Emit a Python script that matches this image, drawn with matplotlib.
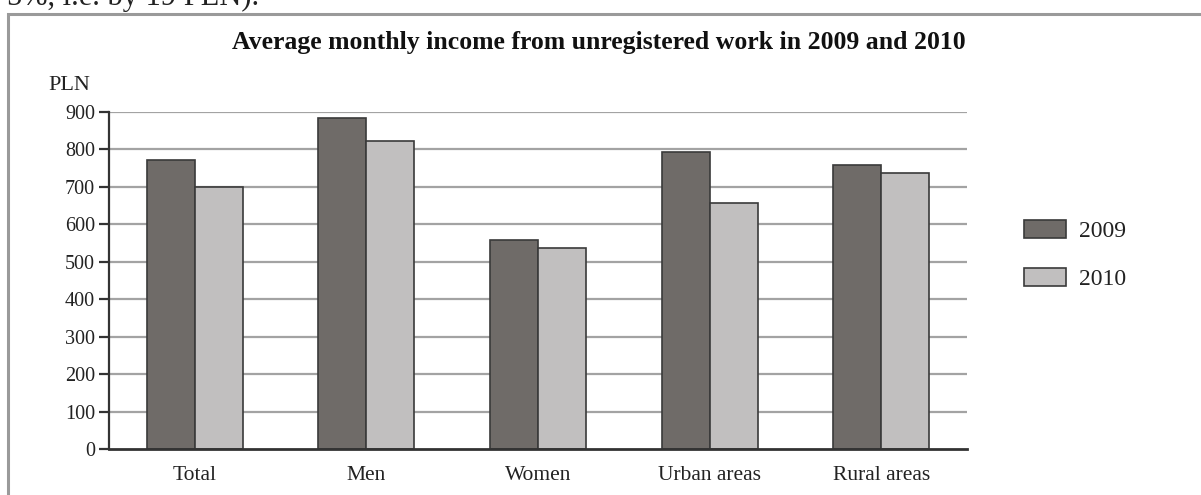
import matplotlib
matplotlib.use("Agg")
import matplotlib.pyplot as plt
from matplotlib.patches import Rectangle
import numpy as np

categories = ["Total", "Men", "Women", "Urban areas", "Rural areas"]
values_2009 = [773, 885, 558, 792, 758]
values_2010 = [700, 823, 538, 657, 736]
series_labels = ["2009", "2010"]
yticks = [0, 100, 200, 300, 400, 500, 600, 700, 800, 900]

plt.rcParams['font.family'] = ['Liberation Serif', 'DejaVu Serif']

W, H = 1201, 495
fig = plt.figure(figsize=(W / 100, H / 100), dpi=100)

# border frame (extends beyond right/bottom edges)
fig.patches.append(Rectangle((8 / W, -0.1), 1.2, 1 - 14 / H + 0.1,
                             transform=fig.transFigure, fill=False,
                             edgecolor="#9a9a9a", linewidth=2.2))

# cut-off text at top (only its lower part shows in the reference)
fig.text(7 / W, 1 - 5 / H, "5%, i.e. by 19 PLN).", fontsize=22,
         ha="left", va="baseline", color="#222222")

ax = fig.add_axes([109 / W, 1 - 449 / H, (967 - 109) / W, (449 - 112) / H])

x = np.arange(len(categories))
w = 0.28
c09 = "#6f6b68"
c10 = "#c1bfbf"
edge = "#3a3a3a"
ax.bar(x - w / 2, values_2009, width=w, color=c09, edgecolor=edge,
       linewidth=1.2, label=series_labels[0], zorder=3)
ax.bar(x + w / 2, values_2010, width=w, color=c10, edgecolor=edge,
       linewidth=1.2, label=series_labels[1], zorder=3)

ax.set_xlim(-0.5, len(categories) - 0.5)
ax.set_ylim(0, 900)
ax.set_yticks(yticks)
ax.set_yticklabels([str(v) for v in yticks], fontsize=14.5, color="#222222")
ax.set_xticks(x)
ax.set_xticklabels(categories, fontsize=15.5, color="#222222")
ax.tick_params(axis="x", length=0, pad=12)
ax.tick_params(axis="y", length=7, width=1.6, color="#333333", pad=3)

for v in yticks[1:]:
    ax.axhline(v, color="#a3a3a3", linewidth=1.6, zorder=1)

for s in ["top", "right"]:
    ax.spines[s].set_visible(False)
ax.spines["left"].set_color("#333333")
ax.spines["left"].set_linewidth(1.6)
ax.spines["bottom"].set_color("#333333")
ax.spines["bottom"].set_linewidth(2.0)
ax.spines["bottom"].set_zorder(4)

fig.text(48 / W, 1 - 86 / H, "PLN", fontsize=16,
         ha="left", va="center", color="#222222")

fig.text(599 / W, 1 - 43 / H,
         "Average monthly income from unregistered work in 2009 and 2010",
         fontsize=18.5, fontweight="bold", ha="center", va="center",
         color="#111111")

leg = fig.legend(loc="center left", bbox_to_anchor=(1024 / W, 1 - 255 / H),
                 frameon=False, fontsize=17, handlelength=1.78,
                 handleheight=0.8, handletextpad=0.55, labelspacing=1.1,
                 borderpad=0, borderaxespad=0)
for t in leg.get_texts():
    t.set_color("#222222")

fig.savefig("out.png", dpi=100)
